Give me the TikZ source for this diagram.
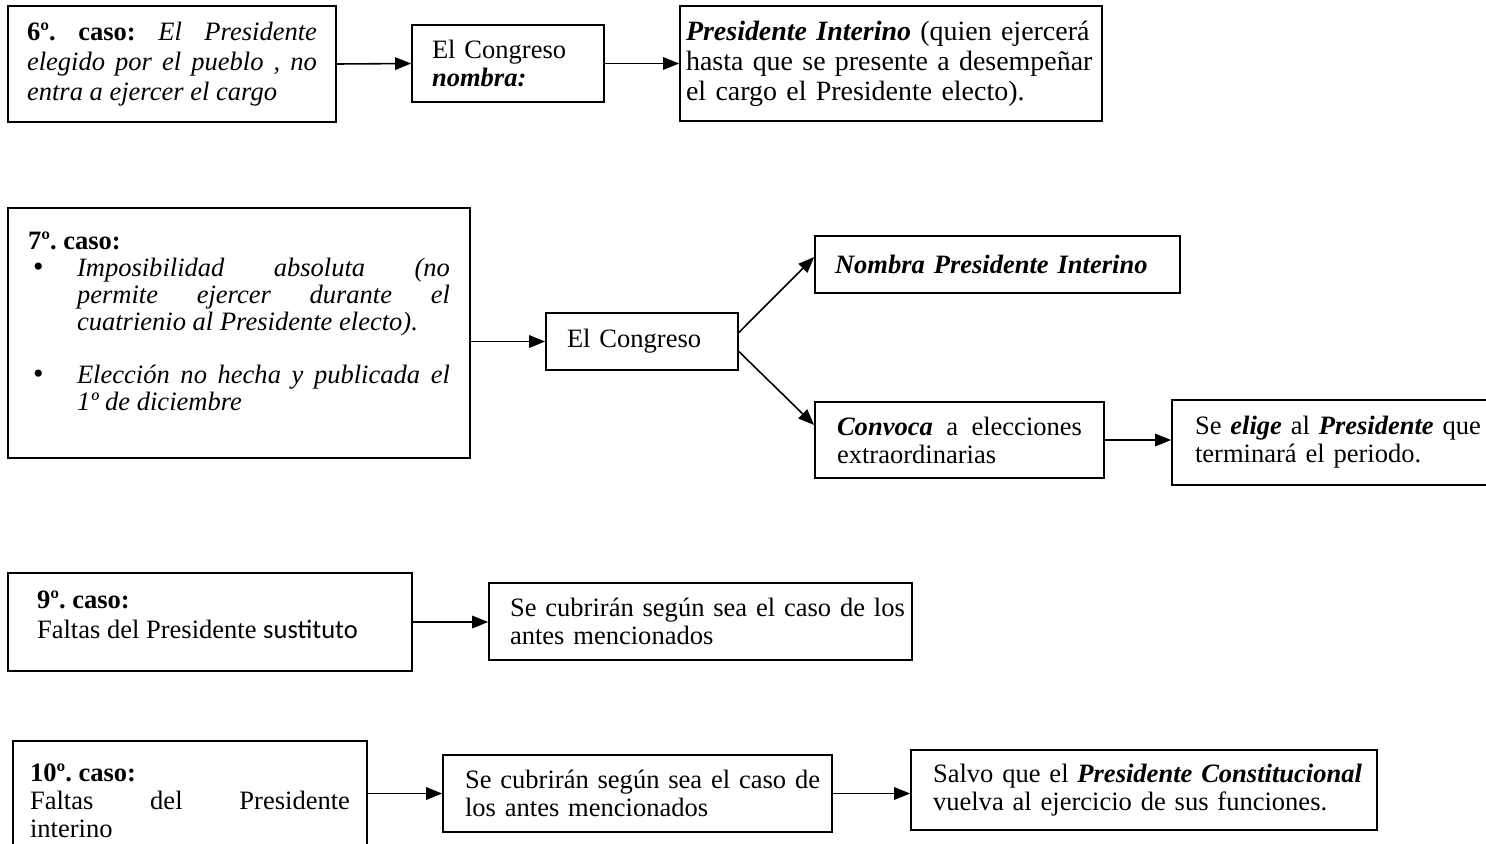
\documentclass[tikz,border=0pt]{standalone}
\usepackage{fontspec}
\setmainfont{Liberation Serif}
\newfontfamily\calibrifont{Carlito}
\usepackage{tikz}
\usetikzlibrary{arrows.meta,positioning}
\frenchspacing
\tikzstyle{casebox} = [rectangle, draw=black, line width=1pt, inner sep=0pt, font=\fontsize{15.1}{16}\selectfont]
\tikzstyle{arrow} = [line width=0.9pt, -{Triangle[length=0.32cm,width=0.25cm]}]
\newcommand{\bulletmark}{\makebox[0.98cm][l]{\hspace{0.1cm}{\fontsize{17}{15}\selectfont\textbullet}}}

\begin{document}
\begin{tikzpicture}[x=0.02cm, y=-0.02cm]
\useasboundingbox (0,0) rectangle (1486,843);
\clip (0,0) rectangle (1486,843);
\node[casebox, minimum width=6.56cm, minimum height=2.32cm, text width=5.8cm, align=justify, font=\fontsize{15.1}{17}\selectfont] (caso6) at (172,64) {\textbf{6º. caso:} \textit{El Presidente\linebreak elegido por el pueblo , no\linebreak entra a ejercer el cargo}};
\node[casebox, minimum width=3.84cm, minimum height=1.54cm, text width=3.04cm, align=left] (congreso6) at (508,63.5) {El Congreso\\\textbf{\textit{nombra:}}};
\node[casebox, minimum width=8.44cm, minimum height=2.3cm, text width=8.2cm, align=left, font=\fontsize{15.9}{17}\selectfont] (interino6) at (891,63.5) {\mbox{\textbf{\textit{Presidente Interino}} (quien ejercerá}\\\mbox{hasta que se presente a desempeñar}\\\mbox{el cargo el Presidente electo).}};
\draw[arrow] (caso6.east) -- (congreso6.west);
\draw[arrow] (congreso6.east) -- (interino6.west);

\node[casebox, minimum width=9.24cm, minimum height=5cm, inner ysep=0.48cm, font=\fontsize{15.1}{15.4}\selectfont] (caso7) at (239,333) {\parbox[c][4.04cm][t]{8.44cm}{\textbf{7º. caso:}\\
\bulletmark\parbox[t]{7.46cm}{\itshape Imposibilidad absoluta (no\linebreak permite ejercer durante el\linebreak cuatrienio al Presidente electo).}\\[15.4pt]
\bulletmark\parbox[t]{7.46cm}{\itshape Elección no hecha y publicada el\linebreak 1º de diciembre}}};
\node[casebox, minimum width=3.84cm, minimum height=1.14cm, text width=3.0cm, align=left] (congreso7) at (642,341.5) {El Congreso};
\node[casebox, minimum width=7.3cm, minimum height=1.14cm, text width=6.5cm, align=left] (nombra7) at (997.5,264.5) {\textbf{\textit{Nombra Presidente Interino}}};
\node[casebox, minimum width=5.78cm, minimum height=1.52cm, text width=4.9cm, align=justify] (convoca7) at (959.5,440) {\textbf{\textit{Convoca}} a elecciones\linebreak extraordinarias};
\node[casebox, minimum width=6.56cm, minimum height=1.7cm, text width=5.64cm, align=left] (elige7) at (1336,442.5) {\mbox{Se \textbf{\textit{elige}} al \textbf{\textit{Presidente}} que}\\\mbox{terminará el periodo.}};
\draw[arrow] (caso7.east |- congreso7.west) -- (congreso7.west);
\draw[arrow] ([yshift=0.18cm]congreso7.east) -- ([yshift=0.15cm]nombra7.west);
\draw[arrow] ([yshift=-0.2cm]congreso7.east) -- ([yshift=0.3cm]convoca7.west);
\draw[arrow] (convoca7.east) -- (convoca7.east -| elige7.west);

\node[casebox, minimum width=8.08cm, minimum height=1.96cm, inner ysep=0.36cm, font=\fontsize{15.1}{17}\selectfont] (caso9) at (210,622) {\parbox[c][1.24cm][t]{6.92cm}{\textbf{9º. caso:}\\Faltas del Presidente {\calibrifont sustituto}}};
\node[casebox, minimum width=8.46cm, minimum height=1.54cm, text width=7.62cm, align=left] (cubren9) at (700.5,621.5) {\mbox{Se cubrirán según sea el caso de los}\\\mbox{antes mencionados}};
\draw[arrow] (caso9.east) -- (caso9.east -| cubren9.west);

\node[casebox, minimum width=7.08cm, minimum height=2.38cm, text width=6.4cm, align=justify] (caso10) at (190,800.5) {\textbf{10º. caso:}\\Faltas del Presidente\linebreak interino};
\node[casebox, minimum width=7.78cm, minimum height=1.54cm, text width=6.9cm, align=left] (cubren10) at (637.5,793.5) {\mbox{Se cubrirán según sea el caso de}\\\mbox{los antes mencionados}};
\node[casebox, minimum width=9.32cm, minimum height=1.6cm, text width=8.44cm, align=left] (salvo10) at (1144,790) {\mbox{Salvo que el \textbf{\textit{Presidente Constitucional}}}\\\mbox{vuelva al ejercicio de sus funciones.}};
\draw[arrow] (caso10.east |- cubren10.west) -- (cubren10.west);
\draw[arrow] (cubren10.east) -- (cubren10.east -| salvo10.west);
\end{tikzpicture}
\end{document}
